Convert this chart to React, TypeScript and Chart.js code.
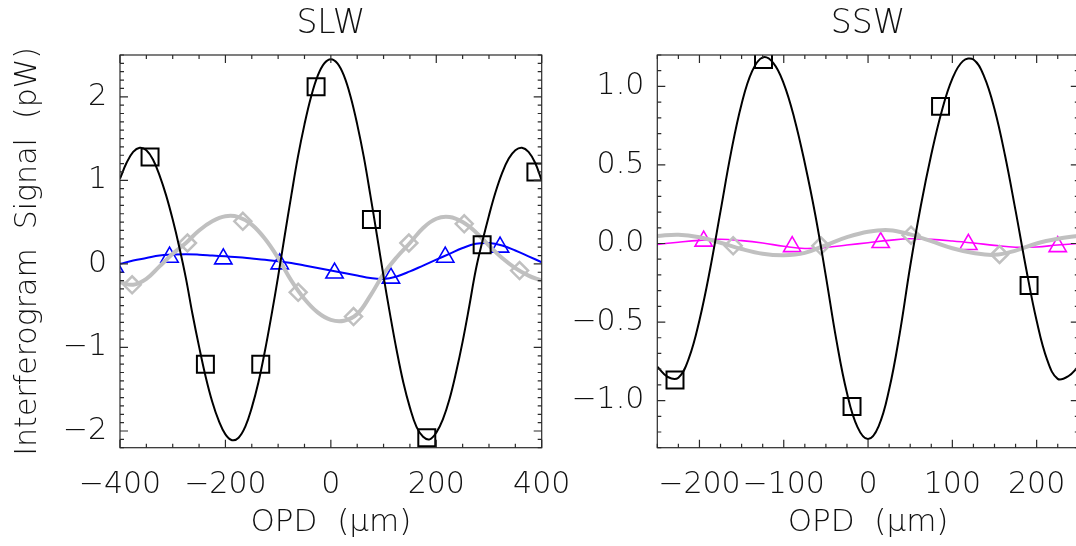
import { useEffect, useRef } from "react";
import { Chart, registerables } from "chart.js";

Chart.register(...registerables);

// ---------------- SLW panel data ----------------
const SLW_FINE_X = [-400, -387.5, -375, -362.5, -350, -337.5, -325, -312.5, -300, -287.5, -275, -262.5, -250, -237.5, -225, -212.5, -200, -187.5, -175, -162.5, -150, -137.5, -125, -112.5, -100, -87.5, -75, -62.5, -50, -37.5, -25, -12.5, 0, 12.5, 25, 37.5, 50, 62.5, 75, 87.5, 100, 112.5, 125, 137.5, 150, 162.5, 175, 187.5, 200, 212.5, 225, 237.5, 250, 262.5, 275, 287.5, 300, 312.5, 325, 337.5, 350, 362.5, 375, 387.5, 400];
const SLW_BLACK = [1.02, 1.21, 1.34, 1.39, 1.36, 1.25, 1.06, 0.82, 0.53, 0.2, -0.17, -0.6, -0.99, -1.35, -1.65, -1.88, -2.04, -2.11, -2.08, -1.95, -1.72, -1.42, -1.04, -0.61, -0.15, 0.34, 0.82, 1.28, 1.67, 2.0, 2.25, 2.4, 2.45, 2.4, 2.25, 2.0, 1.67, 1.28, 0.82, 0.34, -0.15, -0.61, -1.04, -1.42, -1.72, -1.95, -2.07, -2.1, -2.02, -1.86, -1.62, -1.3, -0.93, -0.51, -0.07, 0.27, 0.58, 0.86, 1.09, 1.26, 1.36, 1.39, 1.34, 1.21, 1.0];
const SLW_X = [-400, -375, -350, -325, -300, -275, -250, -225, -200, -175, -150, -125, -100, -75, -50, -25, 0, 25, 50, 75, 100, 125, 150, 175, 200, 225, 250, 275, 300, 325, 350, 375, 400];
const SLW_GRAY = [-0.22, -0.25, -0.18, -0.03, 0.12, 0.25, 0.4, 0.51, 0.57, 0.56, 0.47, 0.3, 0.07, -0.2, -0.42, -0.58, -0.67, -0.68, -0.6, -0.38, -0.12, 0.08, 0.25, 0.43, 0.54, 0.56, 0.5, 0.38, 0.22, 0.07, -0.05, -0.14, -0.2];
const SLW_BLUE = [0.0, 0.04, 0.07, 0.1, 0.11, 0.115, 0.11, 0.1, 0.09, 0.08, 0.065, 0.05, 0.03, 0.01, -0.02, -0.05, -0.08, -0.11, -0.14, -0.17, -0.18, -0.15, -0.09, -0.02, 0.05, 0.12, 0.19, 0.24, 0.25, 0.22, 0.16, 0.09, 0.02];
const SLW_SQ_X = [-343, -238, -133, -28, 77, 182, 287, 389];
const SLW_SQ_Y = [1.28, -1.2, -1.2, 2.12, 0.53, -2.08, 0.23, 1.1];
const SLW_DIA_X = [-377, -272, -167, -62, 43, 148, 253, 358];
const SLW_DIA_Y = [-0.25, 0.25, 0.51, -0.34, -0.63, 0.25, 0.48, -0.08];
const SLW_TRI_X = [-410, -306, -204, -97, 7, 114, 217, 321];
const SLW_TRI_Y = [-0.04, 0.08, 0.06, 0.0, -0.11, -0.17, 0.08, 0.2];
const SLW_X_TICKS = [-400, -200, 0, 200, 400];
const SLW_X_LABELS = ["\u2212400", "\u2212200", "0", "200", "400"];
const SLW_Y_TICKS = [-2, -1, 0, 1, 2];
const SLW_Y_LABELS = ["\u22122", "\u22121", "0", "1", "2"];

// ---------------- SSW panel data ----------------
const SSW_FINE_X = [-250, -237.5, -225, -212.5, -200, -187.5, -175, -162.5, -150, -137.5, -125, -112.5, -100, -87.5, -75, -62.5, -50, -37.5, -25, -12.5, 0, 12.5, 25, 37.5, 50, 62.5, 75, 87.5, 100, 112.5, 125, 137.5, 150, 162.5, 175, 187.5, 200, 212.5, 225, 237.5, 250];
const SSW_BLACK = [-0.785, -0.85, -0.854, -0.73, -0.488, -0.167, 0.206, 0.58, 0.888, 1.097, 1.185, 1.15, 1.018, 0.798, 0.511, 0.18, -0.209, -0.617, -0.952, -1.169, -1.245, -1.164, -0.93, -0.575, -0.145, 0.237, 0.566, 0.844, 1.049, 1.161, 1.171, 1.066, 0.856, 0.56, 0.209, -0.159, -0.492, -0.741, -0.862, -0.845, -0.78];
const SSW_X = [-250, -225, -200, -175, -150, -125, -100, -75, -50, -25, 0, 25, 50, 75, 100, 125, 150, 175, 200, 225, 250];
const SSW_GRAY = [0.048, 0.056, 0.04, 0.005, -0.035, -0.065, -0.075, -0.06, -0.01, 0.04, 0.075, 0.085, 0.058, 0.015, -0.03, -0.06, -0.072, -0.045, 0.0, 0.03, 0.05];
const SSW_MAGENTA = [-0.006, 0.008, 0.02, 0.027, 0.018, 0.003, -0.018, -0.032, -0.025, -0.01, 0.005, 0.02, 0.03, 0.026, 0.016, 0.003, -0.012, -0.024, -0.022, -0.01, 0.0];
const SSW_SQ_X = [-229, -124, -19, 86, 191];
const SSW_SQ_Y = [-0.869, 1.172, -1.038, 0.873, -0.268];
const SSW_DIA_X = [-160, -56, 51, 156];
const SSW_DIA_Y = [-0.015, -0.015, 0.053, -0.07];
const SSW_TRI_X = [-195, -90, 15, 119, 225];
const SSW_TRI_Y = [0.015, -0.02, 0.006, -0.006, -0.02];
const SSW_X_TICKS = [-200, -100, 0, 100, 200];
const SSW_X_LABELS = ["\u2212200", "\u2212100", "0", "100", "200"];
const SSW_Y_TICKS = [-1, -0.5, 0, 0.5, 1];
const SSW_Y_LABELS = ["\u22121.0", "\u22120.5", "0.0", "0.5", "1.0"];

const FAMILY = "'DejaVu Sans', sans-serif";
const WEIGHT = "200";
const TEXT = "#111111";
const GRAY = "#c0c0c0";

function pts(xs: number[], ys: number[]) {
  return xs.map((x, i) => ({ x, y: ys[i] }));
}

function steps(min: number, max: number, step: number) {
  const out: number[] = [];
  const n = Math.round((max - min) / step);
  for (let i = 0; i <= n; i++) out.push(+(min + i * step).toFixed(6));
  return out;
}

const innerTicks = {
  id: "innerTicks",
  afterDraw(chart: any, _args: any, opts: any) {
    const { ctx, chartArea: a, scales } = chart;
    const xs = scales.x;
    const ys = scales.y;
    ctx.save();
    ctx.strokeStyle = "#2a2a2a";
    ctx.lineWidth = 1.2;
    ctx.beginPath();
    const isMajor = (list: number[], v: number) => list.some((m) => Math.abs(m - v) < 1e-6);
    for (const v of opts.xMinor) {
      const px = xs.getPixelForValue(v);
      const L = isMajor(opts.xMajor, v) ? 8 : 4;
      ctx.moveTo(px, a.bottom);
      ctx.lineTo(px, a.bottom - L);
      ctx.moveTo(px, a.top);
      ctx.lineTo(px, a.top + L);
    }
    for (const v of opts.yMinor) {
      const py = ys.getPixelForValue(v);
      const L = isMajor(opts.yMajor, v) ? 8 : 4;
      ctx.moveTo(a.left, py);
      ctx.lineTo(a.left + L, py);
      ctx.moveTo(a.right, py);
      ctx.lineTo(a.right - L, py);
    }
    ctx.stroke();
    ctx.strokeRect(a.left, a.top, a.right - a.left, a.bottom - a.top);
    ctx.restore();
  },
};

type Panel = {
  title: string;
  xMin: number;
  xMax: number;
  yMin: number;
  yMax: number;
  xTicks: number[];
  xLabels: string[];
  yTicks: number[];
  yLabels: string[];
  xMinorStep: number;
  yMinorStep: number;
  yAxisWidth: number;
  padRight: number;
  yTitle: string | null;
  datasets: any[];
};

function lineDs(data: any[], color: string, width: number) {
  return {
    data,
    showLine: true,
    borderColor: color,
    borderWidth: width,
    pointRadius: 0,
    tension: 0.4,
    clip: 0,
  };
}

function markerDs(data: any[], color: string, style: string, radius: number, width: number) {
  return {
    data,
    showLine: false,
    pointStyle: style,
    pointRadius: radius,
    pointBorderColor: color,
    pointBackgroundColor: "rgba(0,0,0,0)",
    pointBorderWidth: width,
    clip: 0,
  };
}

function makeConfig(p: Panel): any {
  const tickFont = { family: FAMILY, size: 30, weight: WEIGHT };
  const titleFont = { family: FAMILY, size: 30, weight: WEIGHT };
  return {
    type: "scatter",
    data: { datasets: p.datasets },
    plugins: [innerTicks],
    options: {
      animation: false,
      responsive: false,
      events: [],
      layout: { padding: { left: 0, right: p.padRight, top: 0, bottom: 0 } },
      plugins: {
        legend: { display: false },
        tooltip: { enabled: false },
        title: {
          display: true,
          text: p.title,
          fullSize: false,
          color: TEXT,
          font: { family: FAMILY, size: 33, weight: WEIGHT },
          padding: { top: 5, bottom: 10.4 },
        },
        innerTicks: {
          xMajor: p.xTicks,
          yMajor: p.yTicks,
          xMinor: steps(p.xMin, p.xMax, p.xMinorStep),
          yMinor: steps(Math.ceil(p.yMin / p.yMinorStep - 1e-9) * p.yMinorStep, p.yMax, p.yMinorStep),
        },
      },
      scales: {
        x: {
          type: "linear",
          min: p.xMin,
          max: p.xMax,
          afterBuildTicks: (s: any) => {
            s.ticks = p.xTicks.map((v) => ({ value: v }));
          },
          afterFit: (s: any) => {
            s.height = 98.3;
            s.paddingLeft = 0;
            s.paddingRight = 0;
          },
          grid: { display: false, drawTicks: false },
          border: { display: false },
          ticks: {
            autoSkip: false,
            maxRotation: 0,
            minRotation: 0,
            padding: 20,
            color: TEXT,
            font: tickFont,
            callback: (_v: any, i: number) => p.xLabels[i],
          },
          title: {
            display: true,
            text: "OPD  (\u03bcm)",
            color: TEXT,
            font: { family: FAMILY, size: 31, weight: WEIGHT },
            padding: { top: 0, bottom: 4 },
          },
        },
        y: {
          type: "linear",
          min: p.yMin,
          max: p.yMax,
          afterBuildTicks: (s: any) => {
            s.ticks = p.yTicks.map((v) => ({ value: v }));
          },
          afterFit: (s: any) => {
            s.width = p.yAxisWidth;
            s.paddingTop = 0;
            s.paddingBottom = 0;
          },
          grid: { display: false, drawTicks: false },
          border: { display: false },
          ticks: {
            autoSkip: false,
            padding: 13,
            color: TEXT,
            font: tickFont,
            callback: (_v: any, i: number) => p.yLabels[i],
          },
          title: {
            display: !!p.yTitle,
            text: p.yTitle || "",
            color: TEXT,
            font: titleFont,
            padding: { top: 10, bottom: 0 },
          },
        },
      },
    },
  };
}

const SLW_PANEL: Panel = {
  title: "SLW",
  xMin: -400,
  xMax: 400,
  yMin: -2.2,
  yMax: 2.5,
  xTicks: SLW_X_TICKS,
  xLabels: SLW_X_LABELS,
  yTicks: SLW_Y_TICKS,
  yLabels: SLW_Y_LABELS,
  xMinorStep: 50,
  yMinorStep: 0.1,
  yAxisWidth: 120,
  padRight: 58.3,
  yTitle: "Interferogram  Signal  (pW)",
  datasets: [
    markerDs(pts(SLW_SQ_X, SLW_SQ_Y), "#000000", "rect", 12, 2),
    lineDs(pts(SLW_FINE_X, SLW_BLACK), "#000000", 2),
    markerDs(pts(SLW_DIA_X, SLW_DIA_Y), GRAY, "rectRot", 8.5, 2.5),
    lineDs(pts(SLW_X, SLW_GRAY), GRAY, 4),
    markerDs(pts(SLW_TRI_X, SLW_TRI_Y), "#0000ff", "triangle", 10, 1.6),
    lineDs(pts(SLW_X, SLW_BLUE), "#0000ff", 2),
  ],
};

const SSW_PANEL: Panel = {
  title: "SSW",
  xMin: -250,
  xMax: 250,
  yMin: -1.3,
  yMax: 1.2,
  xTicks: SSW_X_TICKS,
  xLabels: SSW_X_LABELS,
  yTicks: SSW_Y_TICKS,
  yLabels: SSW_Y_LABELS,
  xMinorStep: 25,
  yMinorStep: 0.1,
  yAxisWidth: 117.3,
  padRight: 21.2,
  yTitle: null,
  datasets: [
    markerDs(pts(SSW_SQ_X, SSW_SQ_Y), "#000000", "rect", 12, 2),
    lineDs(pts(SSW_FINE_X, SSW_BLACK), "#000000", 2),
    markerDs(pts(SSW_DIA_X, SSW_DIA_Y), GRAY, "rectRot", 8.5, 2.5),
    lineDs(pts(SSW_X, SSW_GRAY), GRAY, 4),
    markerDs(pts(SSW_TRI_X, SSW_TRI_Y), "#ff00ff", "triangle", 10, 1.6),
    lineDs(pts(SSW_X, SSW_MAGENTA), "#ff00ff", 1.6),
  ],
};

function PanelChart({ panel, left, width }: { panel: Panel; left: number; width: number }) {
  const ref = useRef<HTMLCanvasElement | null>(null);
  useEffect(() => {
    if (!ref.current) return;
    const chart = new Chart(ref.current, makeConfig(panel));
    return () => chart.destroy();
  }, [panel]);
  return (
    <canvas
      ref={ref}
      width={width}
      height={546}
      style={{ position: "absolute", left, top: 0, width, height: 546 }}
    />
  );
}

export default function App() {
  return (
    <div
      style={{
        position: "absolute",
        left: 0,
        top: 0,
        width: 1076,
        height: 546,
        overflow: "hidden",
        background: "#ffffff",
      }}
    >
      <PanelChart panel={SLW_PANEL} left={0} width={600} />
      <PanelChart panel={SSW_PANEL} left={540} width={560} />
    </div>
  );
}
